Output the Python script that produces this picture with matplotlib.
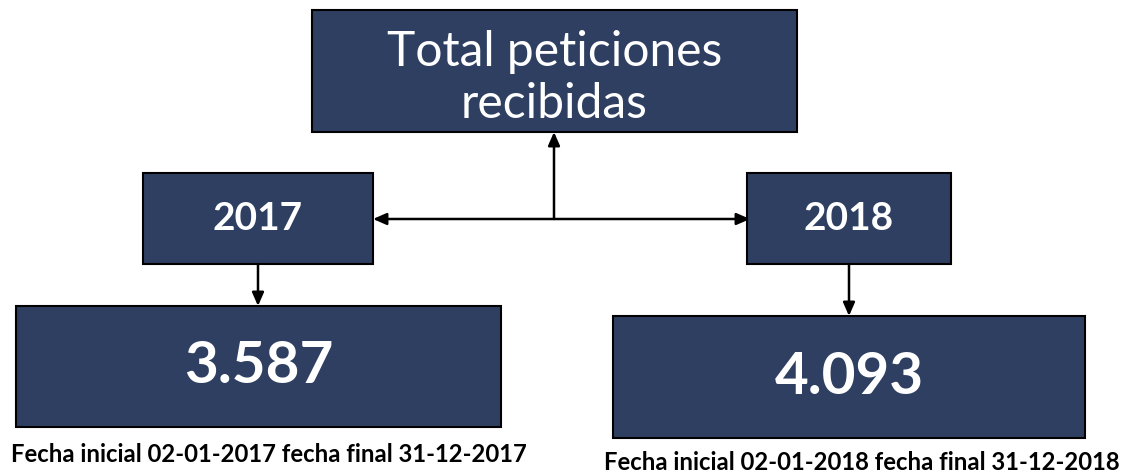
import matplotlib
matplotlib.use("Agg")
import matplotlib.pyplot as plt
from matplotlib.patches import Rectangle

title = "Total peticiones\nrecibidas"
years = ["2017", "2018"]
totals = [3587, 4093]
captions = ["Fecha inicial 02-01-2017 fecha final 31-12-2017",
            "Fecha inicial 02-01-2018 fecha final 31-12-2018"]

NAVY = "#2E3F62"
FONT = "Lato"

fig = plt.figure(figsize=(11.36, 4.75), dpi=100)
ax = fig.add_axes([0, 0, 1, 1])
ax.set_xlim(0, 1136)
ax.set_ylim(475, 0)
ax.axis("off")

def box(x0, y0, x1, y1, text, size, ty=None, ls=1.05, weight="bold"):
    ax.add_patch(Rectangle((x0, y0), x1 - x0, y1 - y0, facecolor=NAVY,
                           edgecolor="black", lw=1.5, zorder=2))
    if ty is None:
        ty = (y0 + y1) / 2
    ax.text((x0 + x1) / 2, ty, text, color="white", fontsize=size,
            family=FONT, ha="center", va="center", linespacing=ls,
            fontweight=weight, zorder=3)

def fmt(v):
    return f"{v:,}".replace(",", ".")

box(312, 10, 797, 132, title, 34.5, ty=78, ls=1.25, weight="normal")

year_boxes = [(143, 173, 373, 264), (747, 173, 951, 264)]
total_boxes = [(16, 306, 501, 427), (613, 316, 1085, 438)]
caption_pos = [(269, 455), (862, 462)]

for yb, tb, yr, tot, cap, cp in zip(year_boxes, total_boxes, years, totals, captions, caption_pos):
    box(*yb, yr, 28)
    box(*tb, fmt(tot), 42)
    xm = (yb[0] + yb[2]) / 2
    ax.annotate("", xy=(xm, tb[1]), xytext=(xm, yb[3]),
                arrowprops=dict(arrowstyle="-|>,head_length=0.8,head_width=0.35",
                                color="black", lw=1.8, shrinkA=0, shrinkB=0), zorder=4)
    ax.text(cp[0], cp[1], cap, fontsize=17.2, family=FONT, fontweight="bold",
            ha="center", va="center", color="black")

hy = 219
ax.annotate("", xy=(373, hy), xytext=(750, hy),
            arrowprops=dict(arrowstyle="<|-|>,head_length=0.8,head_width=0.35",
                            color="black", lw=1.8, shrinkA=0, shrinkB=0), zorder=4)
ax.annotate("", xy=(554, 132), xytext=(554, hy),
            arrowprops=dict(arrowstyle="-|>,head_length=0.8,head_width=0.35",
                            color="black", lw=1.8, shrinkA=0, shrinkB=0), zorder=4)

fig.savefig("out.png", dpi=100, facecolor="white")
